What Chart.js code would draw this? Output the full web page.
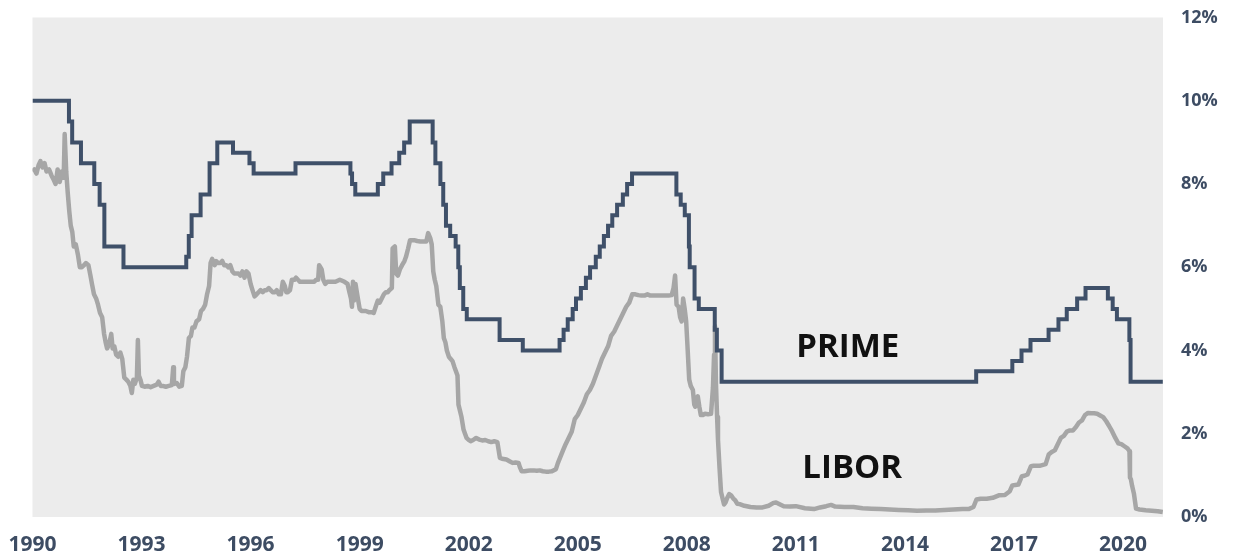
<!DOCTYPE html>
<html>
<head>
<meta charset="utf-8">
<script src="https://cdn.jsdelivr.net/npm/chart.js@4.4.1/dist/chart.umd.min.js"></script>
<style>
html,body{margin:0;padding:0;background:#ffffff;}
#wrap{width:1234px;height:557px;position:relative;}
</style>
</head>
<body>
<div id="wrap"><canvas id="c" width="1234" height="557"></canvas></div>
<script>
// ---- tick labels ----
const xTickYears = [1990, 1993, 1996, 1999, 2002, 2005, 2008, 2011, 2014, 2017, 2020];
const yTickRates = [0, 2, 4, 6, 8, 10, 12];
const xMin = 1990, xMax = 2021.1;

// ---- series names and where they are written (data units) ----
const seriesNames = ['PRIME', 'LIBOR'];
const nameYears = [2012.43, 2012.55];
const nameRates = [4.08, 1.17];

// ---- PRIME rate: date of change, new rate (%) ----
const primeDates = [
  '1990-01-01','1991-01-02','1991-02-04','1991-05-01','1991-09-13','1991-11-06','1991-12-23',
  '1992-07-02','1994-03-24','1994-04-19','1994-05-17','1994-08-16','1994-11-15',
  '1995-02-01','1995-07-07','1995-12-20','1996-02-01','1997-03-26',
  '1998-09-30','1998-10-16','1998-11-18','1999-07-01','1999-08-25','1999-11-17',
  '2000-02-03','2000-03-22','2000-05-17',
  '2001-01-04','2001-02-01','2001-03-21','2001-04-19','2001-05-16','2001-06-28','2001-08-22','2001-09-18','2001-10-03','2001-11-07','2001-12-12',
  '2002-11-07','2003-06-27',
  '2004-07-01','2004-08-11','2004-09-22','2004-11-11','2004-12-14',
  '2005-02-02','2005-03-22','2005-05-03','2005-06-30','2005-08-09','2005-09-20','2005-11-01','2005-12-13',
  '2006-01-31','2006-03-28','2006-05-10','2006-06-29',
  '2007-09-18','2007-10-31','2007-12-11',
  '2008-01-22','2008-01-30','2008-03-18','2008-04-30','2008-10-08','2008-10-29','2008-12-16',
  '2015-12-17','2016-12-15','2017-03-16','2017-06-15','2017-12-14',
  '2018-03-22','2018-06-14','2018-09-27','2018-12-20',
  '2019-08-01','2019-09-19','2019-10-31','2020-03-04','2020-03-16','2021-02-05'
];
const primeRates = [
  10.00, 9.50, 9.00, 8.50, 8.00, 7.50, 6.50,
  6.00, 6.25, 6.75, 7.25, 7.75, 8.50,
  9.00, 8.75, 8.50, 8.25, 8.50,
  8.25, 8.00, 7.75, 8.00, 8.25, 8.50,
  8.75, 9.00, 9.50,
  9.00, 8.50, 8.00, 7.50, 7.00, 6.75, 6.50, 6.00, 5.50, 5.00, 4.75,
  4.25, 4.00,
  4.25, 4.50, 4.75, 5.00, 5.25,
  5.50, 5.75, 6.00, 6.25, 6.50, 6.75, 7.00, 7.25,
  7.50, 7.75, 8.00, 8.25,
  7.75, 7.50, 7.25,
  6.50, 6.00, 5.25, 5.00, 4.50, 4.00, 3.25,
  3.50, 3.75, 4.00, 4.25, 4.50,
  4.75, 5.00, 5.25, 5.50,
  5.25, 5.00, 4.75, 4.25, 3.25, 3.25
];

// ---- LIBOR (1-month, %) ----
const liborDates = [
  '1990-01-01','1990-01-20','1990-02-10','1990-03-01','1990-03-20','1990-04-10','1990-05-01','1990-05-20','1990-06-15','1990-07-10','1990-08-01','1990-08-20','1990-09-10','1990-10-01','1990-10-20','1990-11-10','1990-11-20','1990-12-05','1990-12-20',
  '1991-01-05','1991-01-20','1991-02-05','1991-02-20','1991-03-10','1991-04-01','1991-04-20','1991-05-10','1991-06-01','1991-06-20','1991-07-15','1991-08-05','1991-08-20','1991-09-10','1991-10-01','1991-10-20','1991-11-10','1991-12-01','1991-12-20',
  '1992-01-05','1992-01-20','1992-02-10','1992-03-01','1992-03-15','1992-04-01','1992-04-20','1992-05-10','1992-06-01','1992-06-20','1992-07-10','1992-08-01','1992-08-20','1992-09-10','1992-09-25','1992-10-10','1992-10-25','1992-11-15','1992-11-25','1992-12-05','1992-12-20',
  '1993-01-05','1993-02-01','1993-03-01','1993-04-01','1993-05-01','1993-06-01','1993-06-20','1993-07-10','1993-08-01','1993-09-01','1993-10-01','1993-11-01','1993-11-15','1993-11-22','1993-12-01','1993-12-20',
  '1994-01-15','1994-02-10','1994-02-25','1994-03-15','1994-04-01','1994-04-20','1994-05-10','1994-05-25','1994-06-15','1994-07-05','1994-08-01','1994-08-20','1994-09-10','1994-10-01','1994-10-20','1994-11-10','1994-11-25','1994-12-10',
  '1995-01-05','1995-01-20','1995-02-10','1995-03-01','1995-03-20','1995-04-10','1995-05-01','1995-05-20','1995-06-10','1995-07-01','1995-07-20','1995-08-10','1995-09-01','1995-09-20','1995-10-10','1995-11-01','1995-11-20','1995-12-10',
  '1996-01-01','1996-01-20','1996-02-10','1996-03-01','1996-03-20','1996-04-10','1996-05-01','1996-05-20','1996-06-10','1996-07-01','1996-07-20','1996-08-10','1996-09-01','1996-09-20','1996-10-10','1996-11-01','1996-11-20','1996-12-10','1996-12-25',
  '1997-01-10','1997-02-01','1997-02-20','1997-03-15','1997-04-01','1997-04-20','1997-05-10','1997-06-01','1997-06-20','1997-07-10','1997-08-01','1997-08-20','1997-09-10','1997-10-01','1997-10-20','1997-11-10','1997-11-20','1997-12-15',
  '1998-01-01','1998-01-20','1998-02-10','1998-03-15','1998-05-01','1998-06-15','1998-08-01','1998-09-01','1998-09-20','1998-10-05','1998-10-15','1998-10-25','1998-11-05','1998-11-20','1998-12-10',
  '1999-01-01','1999-01-20','1999-02-10','1999-03-01','1999-04-01','1999-05-01','1999-05-20','1999-06-10','1999-07-01','1999-07-20','1999-08-10','1999-09-01','1999-09-20','1999-10-10','1999-10-25','1999-11-20','1999-11-28','1999-12-20',
  '2000-01-03','2000-01-20','2000-02-10','2000-03-01','2000-03-25','2000-04-10','2000-05-01','2000-05-20','2000-06-10','2000-07-01','2000-08-01','2000-09-01','2000-10-01','2000-11-01','2000-11-20','2000-12-10','2000-12-25',
  '2001-01-10','2001-01-25','2001-02-10','2001-03-01','2001-03-20','2001-04-10','2001-04-25','2001-05-10','2001-05-25','2001-06-15','2001-07-01','2001-07-20','2001-08-10','2001-08-25','2001-09-10','2001-09-20','2001-10-05','2001-10-20','2001-11-10','2001-11-25','2001-12-10',
  '2002-01-01','2002-01-20','2002-02-15','2002-03-15','2002-04-15','2002-05-15','2002-06-15','2002-07-15','2002-08-15','2002-09-15','2002-10-15','2002-11-10','2002-12-01',
  '2003-01-15','2003-02-15','2003-03-15','2003-04-15','2003-05-15','2003-05-28','2003-06-15','2003-07-15','2003-08-15','2003-09-15','2003-10-15','2003-11-15','2003-12-15',
  '2004-01-15','2004-02-15','2004-03-15','2004-04-15','2004-05-25','2004-06-15','2004-07-10','2004-08-05','2004-09-01','2004-10-01','2004-11-01','2004-12-01',
  '2005-01-01','2005-02-01','2005-03-01','2005-04-01','2005-05-01','2005-06-01','2005-07-01','2005-08-01','2005-09-01','2005-10-01','2005-11-01','2005-12-01',
  '2006-01-01','2006-02-01','2006-03-01','2006-04-01','2006-05-01','2006-06-01','2006-07-01','2006-08-01','2006-09-01','2006-10-01','2006-11-01','2006-12-01',
  '2007-01-01','2007-02-01','2007-03-01','2007-04-01','2007-05-01','2007-06-01','2007-07-01','2007-08-01','2007-08-20','2007-09-05','2007-09-20','2007-10-10','2007-10-25','2007-11-10','2007-11-25','2007-12-10','2007-12-25',
  '2008-01-10','2008-01-25','2008-02-10','2008-03-01','2008-03-15','2008-03-25','2008-04-05','2008-04-20','2008-05-05','2008-05-20','2008-06-10','2008-07-01','2008-08-01','2008-09-01','2008-09-20','2008-10-01','2008-10-10','2008-10-20','2008-11-01','2008-11-10','2008-11-25','2008-12-10','2008-12-25',
  '2009-01-10','2009-01-25','2009-02-10','2009-03-01','2009-03-20','2009-04-10','2009-05-01','2009-05-20','2009-06-15','2009-08-01','2009-10-01','2009-12-01',
  '2010-02-01','2010-04-01','2010-05-20','2010-06-15','2010-07-10','2010-09-01','2010-11-01',
  '2011-01-01','2011-04-01','2011-07-01','2011-09-01','2011-11-01','2011-12-20',
  '2012-02-01','2012-05-01','2012-08-01','2012-11-01',
  '2013-02-01','2013-05-01','2013-08-01','2013-11-01',
  '2014-02-01','2014-05-01','2014-08-01','2014-11-01',
  '2015-02-01','2015-05-01','2015-08-01','2015-10-01','2015-11-20','2015-12-20',
  '2016-02-01','2016-04-01','2016-06-01','2016-08-01','2016-10-01','2016-11-20','2016-12-15',
  '2017-01-15','2017-02-15','2017-03-20','2017-04-15','2017-05-15','2017-06-20','2017-07-15','2017-09-15','2017-11-15','2017-12-15',
  '2018-01-15','2018-02-15','2018-03-15','2018-04-15','2018-05-15','2018-06-15','2018-07-15','2018-08-15','2018-09-15','2018-10-15','2018-11-15','2018-12-15',
  '2019-01-15','2019-02-15','2019-03-15','2019-04-15','2019-05-15','2019-06-15','2019-07-15','2019-08-15','2019-09-15','2019-10-15','2019-11-15','2019-12-15',
  '2020-01-15','2020-02-15','2020-03-05','2020-03-10','2020-03-20','2020-04-01','2020-04-20','2020-05-10','2020-06-15','2020-08-15','2020-10-15','2020-12-15',
  '2021-02-05'
];
const liborRates = [
  8.30, 8.35, 8.25, 8.45, 8.55, 8.40, 8.50, 8.30, 8.35, 8.20, 8.10, 8.00, 8.35, 8.05, 8.30, 8.15, 9.20, 8.30, 7.80,
  7.35, 7.00, 6.85, 6.50, 6.55, 6.30, 6.00, 6.00, 6.05, 6.10, 6.05, 5.80, 5.60, 5.35, 5.25, 5.10, 4.90, 4.80, 4.40,
  4.20, 4.05, 4.15, 4.40, 4.05, 4.10, 3.90, 3.85, 3.95, 3.80, 3.35, 3.30, 3.25, 3.15, 2.98, 3.30, 3.20, 3.35, 4.25, 3.40, 3.30,
  3.15, 3.13, 3.15, 3.12, 3.15, 3.18, 3.25, 3.15, 3.15, 3.13, 3.15, 3.17, 3.60, 3.25, 3.20, 3.22,
  3.13, 3.15, 3.50, 3.60, 3.85, 4.30, 4.35, 4.55, 4.55, 4.70, 4.75, 4.95, 5.00, 5.10, 5.35, 5.55, 6.10, 6.20,
  6.05, 6.15, 6.10, 6.10, 6.15, 6.05, 6.05, 6.00, 6.05, 5.90, 5.85, 5.85, 5.85, 5.80, 5.90, 5.75, 5.90, 5.85,
  5.60, 5.45, 5.30, 5.35, 5.40, 5.45, 5.40, 5.45, 5.45, 5.50, 5.45, 5.40, 5.40, 5.45, 5.35, 5.35, 5.65, 5.55, 5.40,
  5.40, 5.45, 5.70, 5.70, 5.75, 5.70, 5.65, 5.65, 5.65, 5.65, 5.65, 5.65, 5.65, 5.65, 5.70, 5.70, 6.05, 5.95,
  5.70, 5.60, 5.65, 5.65, 5.65, 5.70, 5.65, 5.60, 5.40, 5.25, 5.05, 5.65, 5.20, 5.60, 5.30,
  5.00, 4.95, 4.95, 4.95, 4.92, 4.92, 4.90, 5.05, 5.20, 5.15, 5.25, 5.35, 5.40, 5.40, 5.45, 5.50, 6.45, 6.50,
  5.85, 5.80, 5.95, 6.05, 6.15, 6.25, 6.45, 6.65, 6.65, 6.65, 6.63, 6.62, 6.62, 6.62, 6.82, 6.70, 6.55,
  5.90, 5.70, 5.55, 5.10, 5.05, 4.70, 4.30, 4.20, 4.00, 3.85, 3.80, 3.75, 3.60, 3.50, 3.40, 2.70, 2.55, 2.40, 2.10, 2.00, 1.90,
  1.85, 1.82, 1.85, 1.90, 1.86, 1.84, 1.85, 1.82, 1.80, 1.82, 1.80, 1.42, 1.40,
  1.38, 1.34, 1.30, 1.31, 1.30, 1.20, 1.10, 1.10, 1.11, 1.12, 1.12, 1.11, 1.12,
  1.10, 1.09, 1.09, 1.10, 1.15, 1.30, 1.45, 1.60, 1.75, 1.90, 2.05, 2.35,
  2.45, 2.60, 2.75, 2.95, 3.05, 3.20, 3.40, 3.60, 3.80, 3.95, 4.10, 4.35,
  4.45, 4.60, 4.75, 4.90, 5.05, 5.15, 5.35, 5.35, 5.33, 5.32, 5.32, 5.35,
  5.32, 5.32, 5.32, 5.32, 5.32, 5.32, 5.32, 5.33, 5.50, 5.80, 5.10, 5.05, 4.80, 4.70, 5.25, 5.00, 4.70,
  4.00, 3.30, 3.15, 3.05, 2.70, 2.65, 2.85, 2.90, 2.65, 2.45, 2.45, 2.48, 2.47, 2.48, 3.10, 3.90, 4.59, 3.20, 2.40, 1.85, 1.20, 0.60, 0.45,
  0.30, 0.35, 0.45, 0.55, 0.52, 0.45, 0.40, 0.32, 0.31, 0.27, 0.24, 0.23,
  0.23, 0.27, 0.34, 0.35, 0.32, 0.26, 0.25,
  0.26, 0.21, 0.19, 0.23, 0.26, 0.29,
  0.25, 0.24, 0.24, 0.21,
  0.20, 0.19, 0.18, 0.17,
  0.16, 0.15, 0.155, 0.155,
  0.17, 0.18, 0.19, 0.19, 0.24, 0.42,
  0.44, 0.44, 0.46, 0.52, 0.53, 0.62, 0.76,
  0.77, 0.78, 0.98, 0.99, 1.02, 1.22, 1.23, 1.23, 1.27, 1.50,
  1.56, 1.60, 1.75, 1.90, 1.95, 2.05, 2.08, 2.08, 2.16, 2.27, 2.32, 2.45,
  2.50, 2.49, 2.49, 2.48, 2.44, 2.40, 2.30, 2.18, 2.05, 1.90, 1.77, 1.75,
  1.70, 1.65, 1.58, 0.95, 0.90, 0.75, 0.55, 0.20, 0.18, 0.16, 0.15, 0.14,
  0.12
];

// ---- helpers ----
function toYear(s) {
  const p = s.split('-').map(Number);
  const m = p[1] || 1, d = p[2] || 1;
  return p[0] + (m - 1) / 12 + (d - 1) / 365;
}
function pairs(dates, rates) {
  const n = Math.min(dates.length, rates.length);
  const out = [];
  for (let i = 0; i < n; i++) out.push({ x: toYear(dates[i]), y: rates[i] });
  return out;
}
function noScalePadding(scale) {
  scale.paddingLeft = 0; scale.paddingRight = 0; scale.paddingTop = 0; scale.paddingBottom = 0;
}

const FONT = "'Open Sans', 'Lato', 'DejaVu Sans', sans-serif";
const TICK_COLOR = '#3d4c63';

const plotBg = {
  id: 'plotBg',
  beforeDraw(chart) {
    const { ctx, chartArea: a } = chart;
    ctx.save();
    ctx.fillStyle = '#ececec';
    ctx.fillRect(a.left, a.top, a.right - a.left, a.bottom - a.top);
    ctx.restore();
  }
};

const seriesLabels = {
  id: 'seriesLabels',
  afterDatasetsDraw(chart) {
    const { ctx, scales } = chart;
    ctx.save();
    ctx.font = "bold 33px " + FONT;
    ctx.fillStyle = '#111111';
    ctx.textAlign = 'center';
    ctx.textBaseline = 'middle';
    for (let i = 0; i < seriesNames.length; i++) {
      ctx.fillText(seriesNames[i], scales.x.getPixelForValue(nameYears[i]), scales.y.getPixelForValue(nameRates[i]));
    }
    ctx.restore();
  }
};

new Chart(document.getElementById('c'), {
  type: 'line',
  data: {
    datasets: [
      {
        label: 'PRIME',
        data: pairs(primeDates, primeRates),
        stepped: 'before',
        borderColor: '#3f5069',
        borderWidth: 4,
        pointRadius: 0,
        fill: false,
        order: 0
      },
      {
        label: 'LIBOR',
        data: pairs(liborDates, liborRates),
        borderColor: '#a6a6a6',
        borderWidth: 4.5,
        borderJoinStyle: 'round',
        pointRadius: 0,
        tension: 0,
        fill: false,
        order: 1
      }
    ]
  },
  options: {
    responsive: false,
    animation: false,
    devicePixelRatio: 1,
    layout: { autoPadding: false, padding: { left: 32.5, top: 17.5, right: 0, bottom: 0 } },
    plugins: { legend: { display: false }, tooltip: { enabled: false }, title: { display: false } },
    scales: {
      x: {
        type: 'linear',
        min: xMin,
        max: xMax,
        grid: { display: false, drawTicks: false },
        border: { display: false },
        afterBuildTicks(scale) { scale.ticks = xTickYears.map(v => ({ value: v })); },
        afterFit(scale) { scale.height = 40; noScalePadding(scale); },
        ticks: {
          autoSkip: false,
          maxRotation: 0,
          padding: 15,
          color: TICK_COLOR,
          font: { family: FONT, size: 21, weight: 'bold' },
          callback: v => String(v)
        }
      },
      y: {
        position: 'right',
        min: 0,
        max: 12,
        grid: { display: false, drawTicks: false },
        border: { display: false },
        afterBuildTicks(scale) { scale.ticks = yTickRates.map(v => ({ value: v })); },
        afterFit(scale) { scale.width = 71; noScalePadding(scale); },
        ticks: {
          padding: 18,
          color: TICK_COLOR,
          font: { family: FONT, size: 18, weight: 'bold' },
          callback: v => v + '%'
        }
      }
    }
  },
  plugins: [plotBg, seriesLabels]
});
</script>
</body>
</html>
